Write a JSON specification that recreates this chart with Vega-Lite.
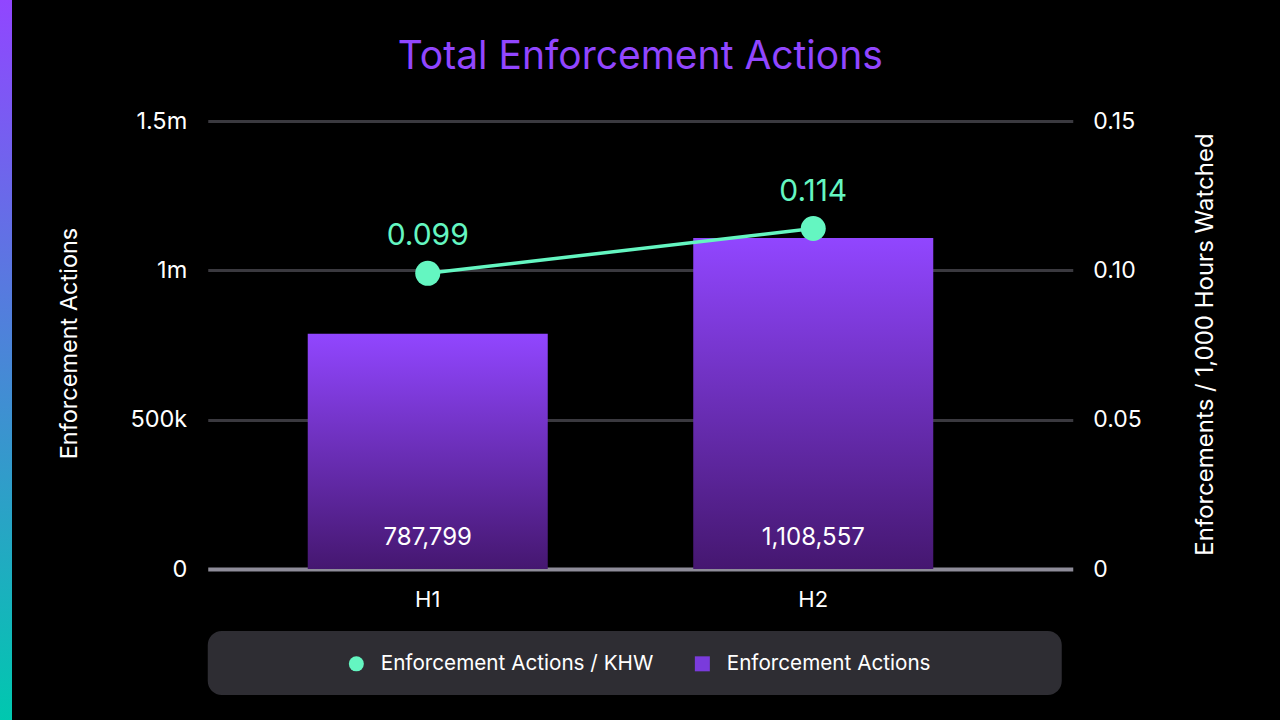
{
  "$schema": "https://vega.github.io/schema/vega-lite/v6.json",
  "background": "#000000",
  "padding": 0,
  "bounds": "full",
  "spacing": 44.75,
  "datasets": {
    "halves": [
      {"period": "H1", "actions": 787799, "rate": 0.099},
      {"period": "H2", "actions": 1108557, "rate": 0.114}
    ],
    "decor": [{"part": "frame"}]
  },
  "hconcat": [
    {
      "width": 12,
      "height": 720,
      "data": {"name": "decor"},
      "mark": {"type": "rect", "color": {"gradient": "linear", "x1": 0, "y1": 0, "x2": 0, "y2": 1, "stops": [{"offset": 0, "color": "#9146FF"}, {"offset": 1, "color": "#00C8AF"}]}},
      "encoding": {}
    },
    {
      "bounds": "flush",
      "spacing": 62,
      "vconcat": [
        {
          "width": 865,
          "height": 569,
          "data": {"name": "halves"},
          "title": {"text": "Total Enforcement Actions", "fontSize": 39, "color": "#9146FF", "font": "Inter", "fontWeight": "normal", "anchor": "middle", "frame": "group", "baseline": "alphabetic", "offset": -108},
          "encoding": {
            "x": {
              "field": "period", "type": "nominal",
              "scale": {"paddingInner": 0.3774, "paddingOuter": 0.3106, "align": 0.4175},
              "axis": {"orient": "bottom", "title": null, "domain": false, "ticks": false, "grid": false, "labelAngle": 0, "labelPadding": 20, "labelFontSize": 22, "labelColor": "#FFFFFF", "labelFont": "Inter"}
            }
          },
          "layer": [
            {
              "encoding": {
                "y": {
                  "field": "actions", "type": "quantitative",
                  "scale": {"domain": [0, 1905134], "nice": false, "zero": true},
                  "axis": {
                    "orient": "left",
                    "values": [0, 500000, 1000000, 1500000],
                    "labelExpr": "datum.value === 0 ? '0' : (datum.value >= 1000000 ? format(datum.value / 1000000, '~g') + 'm' : format(datum.value / 1000, '~g') + 'k')",
                    "grid": true,
                    "gridColor": {"condition": {"test": "datum.value === 0", "value": "#8E8C99"}, "value": "#3A393F"},
                    "gridWidth": {"condition": {"test": "datum.value === 0", "value": 4}, "value": 3},
                    "domain": false, "ticks": false,
                    "labelPadding": 21, "labelFontSize": 23.5, "labelColor": "#FFFFFF", "labelFont": "Inter",
                    "title": "Enforcement Actions", "titleFontSize": 23.5, "titleColor": "#FFFFFF", "titleFont": "Inter", "titleFontWeight": "normal",
                    "titleX": -138.5, "titleY": 343, "titleAngle": 270, "titleAlign": "center", "titleBaseline": "middle"
                  }
                }
              },
              "layer": [
                {
                  "mark": {"type": "bar", "color": {"gradient": "linear", "x1": 0, "y1": 0, "x2": 0, "y2": 1, "stops": [{"offset": 0, "color": "#9146FF"}, {"offset": 1, "color": "#451770"}]}}
                },
                {
                  "mark": {"type": "text", "dy": -31, "baseline": "middle", "fontSize": 24, "color": "#FFFFFF", "font": "Inter"},
                  "encoding": {
                    "y": {"datum": 0, "type": "quantitative"},
                    "text": {"field": "actions", "type": "quantitative", "format": ","}
                  }
                }
              ]
            },
            {
              "encoding": {
                "y": {
                  "field": "rate", "type": "quantitative",
                  "scale": {"domain": [0, 0.1905134], "nice": false, "zero": true},
                  "axis": {
                    "orient": "right",
                    "values": [0, 0.05, 0.1, 0.15],
                    "labelExpr": "datum.value === 0 ? '0' : format(datum.value, '.2f')",
                    "grid": false, "domain": false, "ticks": false,
                    "labelPadding": 20, "labelFontSize": 23, "labelColor": "#FFFFFF", "labelFont": "Inter",
                    "title": "Enforcements / 1,000 Hours Watched", "titleFontSize": 24, "titleColor": "#FFFFFF", "titleFont": "Inter", "titleFontWeight": "normal",
                    "titleX": 133, "titleY": 344, "titleAngle": 270, "titleAlign": "center", "titleBaseline": "middle"
                  }
                }
              },
              "layer": [
                {
                  "mark": {"type": "line", "color": "#64F6C1", "strokeWidth": 3.5}
                },
                {
                  "mark": {"type": "point", "filled": true, "size": 625, "opacity": 1, "strokeWidth": 0},
                  "encoding": {
                    "color": {
                      "datum": "Enforcement Actions / KHW", "type": "nominal",
                      "scale": {"domain": ["Enforcement Actions / KHW", "Enforcement Actions"], "range": ["#64F6C1", "#7A3BDC"]},
                      "legend": {
                        "title": null, "orient": "none", "direction": "horizontal", "legendX": 346, "legendY": 653,
                        "encode": {"symbols": {"update": {"fill": [{"test": "datum.value == 'Enforcement Actions'", "value": {"gradient": "linear", "x1": 0, "y1": 0, "x2": 0, "y2": 1, "stops": [{"offset": 0, "color": "#9146FF"}, {"offset": 1, "color": "#4E1C85"}]}}, {"scale": "color", "field": "value"}]}}}
                      }
                    },
                    "shape": {
                      "datum": "Enforcement Actions / KHW", "type": "nominal",
                      "scale": {"domain": ["Enforcement Actions / KHW", "Enforcement Actions"], "range": ["circle", "square"]},
                      "legend": {"title": null, "orient": "none", "direction": "horizontal", "legendX": 346, "legendY": 653}
                    }
                  }
                },
                {
                  "mark": {"type": "text", "dy": -37, "baseline": "middle", "fontSize": 30, "color": "#64F6C1", "font": "Inter"},
                  "encoding": {
                    "text": {"field": "rate", "type": "quantitative", "format": ".3f"}
                  }
                }
              ]
            }
          ],
          "resolve": {"scale": {"y": "independent"}}
        },
        {
          "width": 854,
          "height": 64,
          "data": {"name": "decor"},
          "mark": {"type": "rect", "color": "#2E2D33", "cornerRadius": 14},
          "encoding": {}
        }
      ]
    },
    {
      "width": 18,
      "height": 720,
      "data": {"name": "decor"},
      "mark": {"type": "rect", "color": "#000000"},
      "encoding": {}
    }
  ],
  "config": {
    "view": {"stroke": null},
    "font": "Inter",
    "legend": {
      "labelFont": "Inter", "labelFontSize": 20.7, "labelColor": "#FFFFFF", "labelLimit": 500,
      "symbolSize": 225, "symbolStrokeWidth": 0, "labelOffset": 14, "columnPadding": 38, "padding": 0, "zindex": 1
    }
  }
}
